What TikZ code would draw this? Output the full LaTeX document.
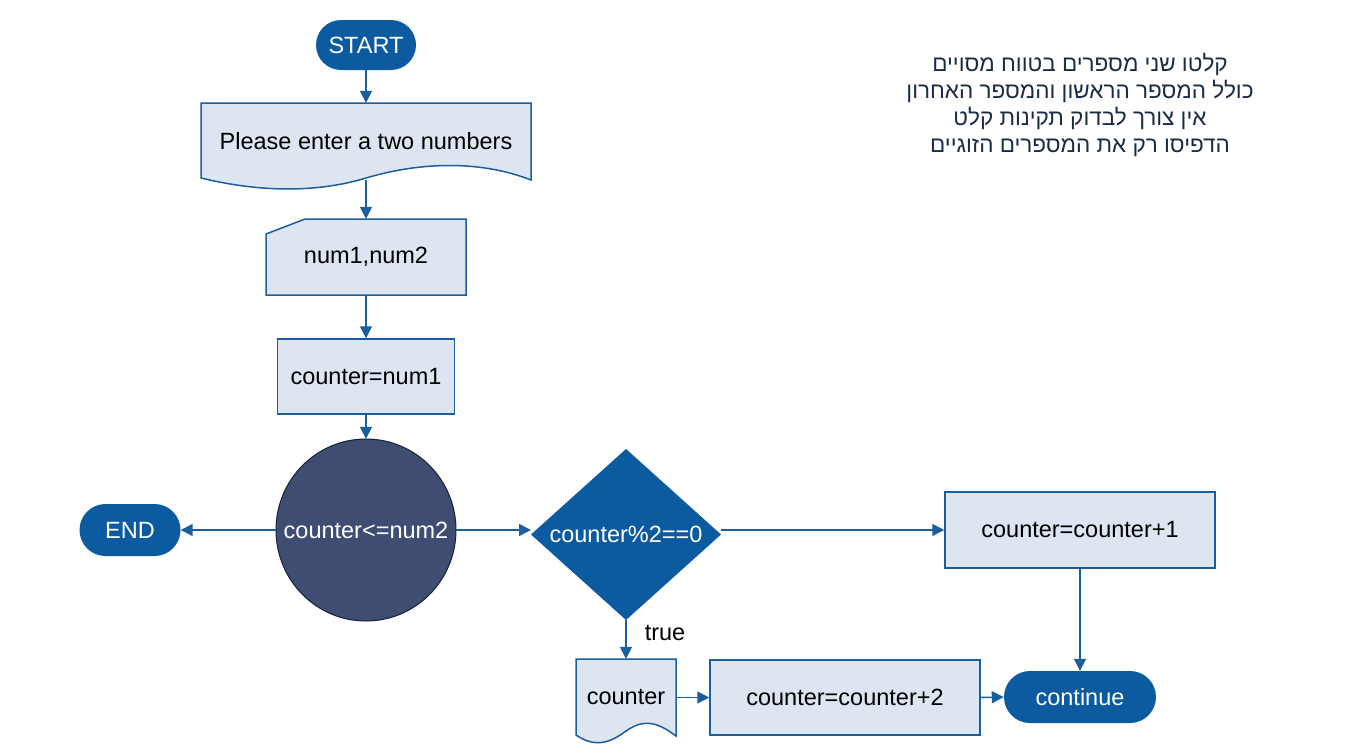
\documentclass[tikz,border=0pt]{standalone}
\usepackage{fontspec}
\setmainfont{Liberation Sans}
\newfontfamily\hebfont[Script=Hebrew]{Liberation Sans}
\TeXXeTstate=1
\usetikzlibrary{shapes.misc,shapes.geometric,arrows.meta}
\definecolor{bluefill}{HTML}{0C5A9F}
\definecolor{lightfill}{HTML}{DDE5F0}
\definecolor{edgeblue}{HTML}{1A5E9E}
\definecolor{circfill}{HTML}{404D73}
\definecolor{circedge}{HTML}{16223A}
\definecolor{hebtext}{HTML}{1B2A45}
\begin{document}
\begin{tikzpicture}[x=1pt,y=-1pt,
  every node/.style={font=\fontsize{23.5}{27}\selectfont, inner sep=0pt},
  term/.style={rounded rectangle, fill=bluefill, text=white},
  procbox/.style={rectangle, draw=edgeblue, fill=lightfill, line width=1.5pt},
  shapeline/.style={draw=edgeblue, fill=lightfill, line width=1.5pt},
  conn/.style={draw=edgeblue, line width=1.5pt, -{Triangle[width=12pt,length=12pt]}}]
\useasboundingbox (0,0) rectangle (1358,755);

% shapes drawn directly
\path[shapeline] (201,103) -- (531,103) -- (531,180)
  .. controls (480,160) and (420,162) .. (366,178)
  .. controls (310,195) and (250,190) .. (201,178) -- cycle;
\path[shapeline] (266,234) -- (305,219) -- (466,219) -- (466,295) -- (266,295) -- cycle;
\path[shapeline] (576,659) -- (676,659) -- (676,736)
  .. controls (655,720) and (642,720) .. (626,731)
  .. controls (610,743) and (595,748) .. (576,735) -- cycle;
\path[fill=bluefill] (531,534.5) -- (626,449) -- (721,534.5) -- (626,620) -- cycle;
\path[draw=circedge, fill=circfill, line width=1pt] (366,530) ellipse [x radius=90, y radius=91];

% nodes
\node[term, minimum width=100pt, minimum height=50pt] (start) at (366,45) {START};
\node[minimum width=330pt, minimum height=77pt] (doc1) at (366,141.5) {Please enter a two numbers};
\node[minimum width=200pt, minimum height=76pt] (inp) at (366,257) {num1,num2};
\node[procbox, minimum width=177pt, minimum height=75pt] (p1) at (366,376.5) {counter=num1};
\node[text=white, minimum width=180pt, minimum height=182pt] (circ) at (366,530) {counter<=num2};
\node[term, minimum width=101pt, minimum height=52pt] (endn) at (130,530) {END};
\node[text=white, minimum width=190pt, minimum height=171pt] (dia) at (626,534.5) {counter\%2==0};
\coordinate (diaL) at (531,530);
\coordinate (diaR) at (721,530);
\node[procbox, minimum width=270pt, minimum height=76pt] (p3) at (1080,530) {counter=counter+1};
\node[minimum width=100pt, minimum height=77pt] (doc2) at (626,697.5) {counter};
\node[procbox, minimum width=270pt, minimum height=75pt] (p2) at (845,697.5) {counter=counter+2};
\node[term, minimum width=152pt, minimum height=52pt] (cont) at (1080,697) {continue};
\node (truelbl) at (665,633) {true};

\node[text=hebtext, align=center, font=\hebfont\fontsize{22.5}{27}\selectfont] (note) at (1080,104.5) {%
\beginR קלטו שני מספרים בטווח מסויים\endR\\
\beginR כולל המספר הראשון והמספר האחרון\endR\\
\beginR אין צורך לבדוק תקינות קלט\endR\\
\beginR הדפיסו רק את המספרים הזוגיים\endR};

% connectors
\draw[conn] (start.south) -- (doc1.north);
\draw[conn] (doc1.south) -- (inp.north);
\draw[conn] (inp.south) -- (p1.north);
\draw[conn] (p1.south) -- (circ.north);
\draw[conn] (circ.west) -- (endn.east);
\draw[conn] (circ.east) -- (diaL);
\draw[conn] (diaR) -- (p3.west);
\draw[conn] (p3.south) -- (cont.north);
\draw[conn] (dia.south) -- (doc2.north);
\draw[conn] (doc2.east) -- (p2.west);
\draw[conn] (p2.east) -- (cont.west);
\end{tikzpicture}
\end{document}
